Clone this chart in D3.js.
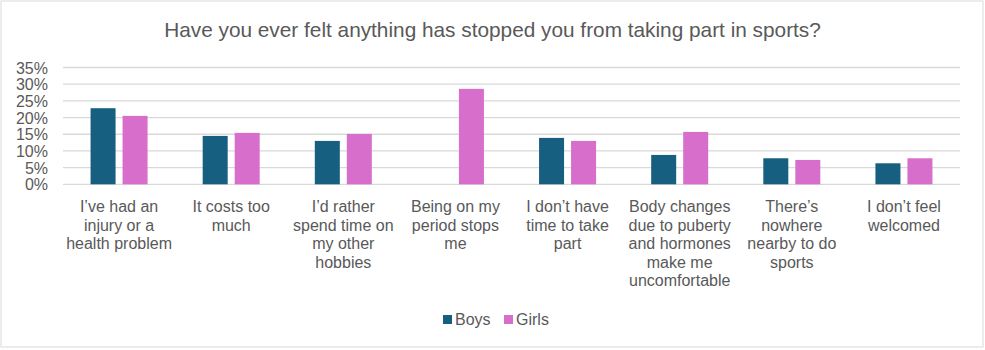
<!DOCTYPE html>
<html><head><meta charset="utf-8">
<script src="https://cdn.jsdelivr.net/npm/d3@7"></script>
<style>body{margin:0;background:#fff}svg{display:block;font-family:"Liberation Sans",Arial,sans-serif}</style>
</head><body><svg id="c" width="985" height="350"></svg>
<script>
const title = "Have you ever felt anything has stopped you from taking part in sports?";
const categories = [
  "I’ve had an\ninjury or a\nhealth problem",
  "It costs too\nmuch",
  "I’d rather\nspend time on\nmy other\nhobbies",
  "Being on my\nperiod stops\nme",
  "I don’t have\ntime to take\npart",
  "Body changes\ndue to puberty\nand hormones\nmake me\nuncomfortable",
  "There’s\nnowhere\nnearby to do\nsports",
  "I don’t feel\nwelcomed"
];
const seriesNames = ["Boys", "Girls"];
const boys = [22.8, 14.5, 13.0, 0, 13.9, 8.8, 7.8, 6.3];
const girls = [20.5, 15.4, 15.1, 28.6, 13.0, 15.7, 7.3, 7.8];
const yTicks = [0, 5, 10, 15, 20, 25, 30, 35];
const colors = ["#165f81", "#d86ecc"];

const svg = d3.select("#c");
const textColor = "#595959";
svg.append("rect").attr("x",1).attr("y",1).attr("width",982).attr("height",346)
  .attr("fill","#fff").attr("stroke","#d9d9d9").attr("stroke-width",1);

svg.append("text").attr("x",492.5).attr("y",36.5).attr("text-anchor","middle")
  .attr("font-size",20.8).attr("fill",textColor).text(title);

const x0 = d3.scaleBand().domain(categories).range([63,960]);
const x1 = d3.scaleBand().domain(seriesNames).range([0,x0.bandwidth()]).paddingInner(7/32).paddingOuter(0.861);
const y = d3.scaleLinear().domain([0,35]).range([184.3,67.5]);

const grid = svg.append("g");
grid.selectAll("line").data(yTicks).join("line")
  .attr("x1",63).attr("x2",960).attr("y1",d=>y(d)).attr("y2",d=>y(d))
  .attr("stroke","#d9d9d9").attr("stroke-width",1.3);

const yAxis = d3.axisLeft(y).tickValues(yTicks).tickFormat(d=>d+"%").tickSize(0).tickPadding(0);
const ya = svg.append("g").attr("transform","translate(48,0)").call(yAxis);
ya.select(".domain").remove();
ya.selectAll("text").attr("font-size",16).attr("fill",textColor).attr("font-family","Liberation Sans, Arial, sans-serif").attr("dy","0.35em");

const data = categories.map((c,i)=>({cat:c, vals:[boys[i], girls[i]]}));
const groups = svg.append("g").selectAll("g").data(data).join("g")
  .attr("transform",d=>`translate(${x0(d.cat)},0)`);
groups.selectAll("rect").data(d=>d.vals.map((v,j)=>({s:seriesNames[j], v, j})))
  .join("rect")
  .attr("x",d=>x1(d.s)).attr("width",x1.bandwidth())
  .attr("y",d=>y(d.v)).attr("height",d=>y(0)-y(d.v))
  .attr("fill",d=>colors[d.j]);

const labels = svg.append("g");
categories.forEach(c=>{
  const t = labels.append("text").attr("text-anchor","middle").attr("font-size",16).attr("fill",textColor)
    .attr("x", x0(c)+x0.bandwidth()/2).attr("y",212);
  c.split("\n").forEach((ln,k)=>{
    t.append("tspan").attr("x", x0(c)+x0.bandwidth()/2).attr("y",212+k*18.6).text(ln);
  });
});

const leg = svg.append("g");
const legX = [443, 504];
seriesNames.forEach((s,i)=>{
  leg.append("rect").attr("x",legX[i]).attr("y",315).attr("width",9).attr("height",9).attr("fill",colors[i]);
  leg.append("text").attr("x",legX[i]+12).attr("y",324.5).attr("font-size",16).attr("fill",textColor).text(s);
});
</script></body></html>
